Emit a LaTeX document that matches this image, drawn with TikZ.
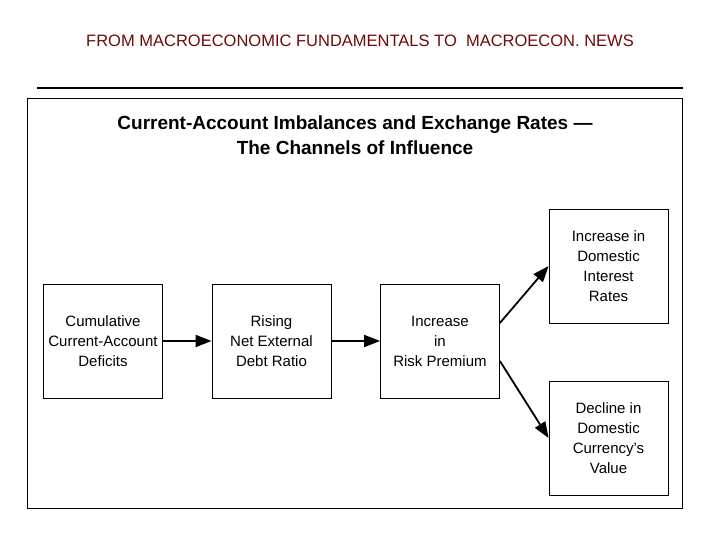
\documentclass[tikz,border=0pt]{standalone}
\usepackage{fontspec}
\setmainfont{Liberation Sans}
\usetikzlibrary{arrows.meta}
\definecolor{titlered}{RGB}{110,10,10}
\begin{document}
\begin{tikzpicture}[x=1pt,y=-1pt,
  box/.style={draw,line width=0.8pt,minimum width=119pt,minimum height=114pt,align=center,font=\fontsize{15}{20}\selectfont,inner sep=2pt},
  arr/.style={line width=1.8pt,-{Triangle[length=16pt,width=12pt]}}]
\useasboundingbox (0,0) rectangle (720,540);
\node[text=titlered,font=\fontsize{16.5}{18}\selectfont] (t) at (360,41) {FROM MACROECONOMIC FUNDAMENTALS TO\ \ MACROECON. NEWS};
\coordinate (l1) at (37,88); \coordinate (l2) at (683,88);
\draw[line width=2pt] (l1) -- (l2);
\draw[line width=0.8pt] (27,98) rectangle (682,508);
\node[font=\bfseries\fontsize{19}{25}\selectfont,align=center] (h) at (355,135) {Current-Account Imbalances and Exchange Rates ---\\The Channels of Influence};
\node[box] (b1) at (103,341) {Cumulative\\Current-Account\\Deficits};
\node[box] (b2) at (271.5,341) {Rising\\Net External\\Debt Ratio};
\node[box] (b3) at (440,341) {Increase\\in\\Risk Premium};
\node[box] (b4) at (608.5,266) {Increase in\\Domestic\\Interest\\Rates};
\node[box] (b5) at (608.5,438) {Decline in\\Domestic\\Currency's\\Value};
\draw[arr] (b1) -- (b2);
\draw[arr] (b2) -- (b3);
\draw[arr] ([yshift=18pt]b3.east) -- (b4.west);
\draw[arr] ([yshift=-20pt]b3.east) -- (b5.west);
\end{tikzpicture}
\end{document}
